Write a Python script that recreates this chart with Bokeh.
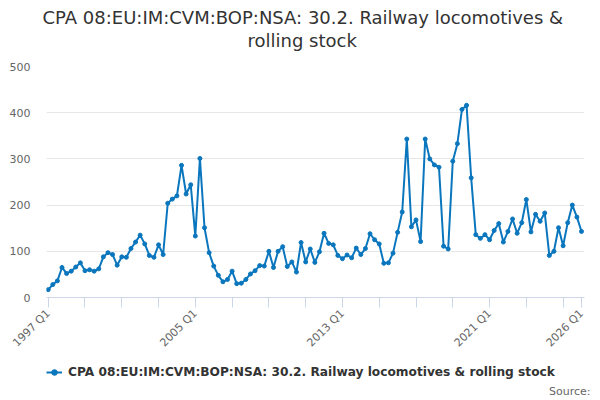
import math
from bokeh.plotting import figure
from bokeh.layouts import column
from bokeh.models import (ColumnDataSource, FixedTicker, Legend, LegendItem,
                          Title)
from bokeh.embed import file_html
from bokeh.resources import INLINE

# quarterly import volumes, 1997 Q1 .. 2026 Q1
years = list(range(1997, 2027))
quarters = [f"{y} Q{q}" for y in years for q in range(1, 5)][:117]
values = [
    17, 28, 36, 65, 52, 57, 66, 75, 58, 60, 57, 62, 88, 97, 93, 70,
    88, 87, 106, 120, 135, 116, 91, 87, 114, 93, 204, 213, 220, 286, 224, 244,
    133, 301, 151, 97, 68, 48, 34, 39, 57, 30, 31, 39, 51, 58, 69, 68,
    100, 65, 100, 110, 67, 77, 55, 119, 77, 105, 76, 99, 139, 117, 114, 91,
    84, 92, 86, 107, 93, 106, 138, 125, 116, 74, 75, 96, 141, 185, 343, 153,
    168, 121, 343, 300, 287, 282, 111, 105, 295, 333, 407, 416, 259, 136, 128, 136,
    125, 145, 160, 120, 143, 170, 139, 162, 212, 142, 180, 165, 183, 91, 100, 151,
    112, 162, 200, 174, 143,
]
labelled = ["1997 Q1", "2005 Q1", "2013 Q1", "2021 Q1", "2026 Q1"]
series_name = "CPA 08:EU:IM:CVM:BOP:NSA: 30.2. Railway locomotives & rolling stock"
title_lines = ["CPA 08:EU:IM:CVM:BOP:NSA: 30.2. Railway locomotives &",
               "rolling stock"]

FONT = "DejaVu Sans"
BLUE = "#0a76bd"

src = ColumnDataSource(dict(x=list(range(len(values))), y=values, q=quarters))

p = figure(width=600, height=357, title=None, output_backend="svg",
           toolbar_location=None, x_range=(-0.37, 116.65), y_range=(0, 500),
           min_border_left=46, min_border_right=16, min_border_top=66,
           min_border_bottom=51)
p.outline_line_color = None
p.background_fill_color = "white"
p.border_fill_color = "white"

p.line("x", "y", source=src, color=BLUE, line_width=2)
p.scatter("x", "y", source=src, size=4, color=BLUE)

# x axis
ticks = list(range(0, 113, 8)) + [116]
p.xaxis.ticker = FixedTicker(ticks=ticks)
p.xaxis.major_label_overrides = {
    i: (quarters[i] if quarters[i] in labelled else "") for i in ticks
}
p.xaxis.major_label_orientation = math.pi / 4
p.xaxis.axis_line_color = "#ccd6eb"
p.xaxis.major_tick_line_color = "#ccd6eb"
p.xaxis.major_tick_out = 10
p.xaxis.major_tick_in = 0
p.xaxis.minor_tick_line_color = None
p.xaxis.major_label_text_font = FONT
p.xaxis.major_label_text_font_size = "11px"
p.xaxis.major_label_text_color = "#666666"
p.xaxis.major_label_standoff = 4
p.xgrid.grid_line_color = None

# y axis
p.yaxis.ticker = FixedTicker(ticks=[0, 100, 200, 300, 400, 500])
p.yaxis.axis_line_color = None
p.yaxis.major_tick_line_color = None
p.yaxis.minor_tick_line_color = None
p.yaxis.major_label_text_font = FONT
p.yaxis.major_label_text_font_size = "11px"
p.yaxis.major_label_text_color = "#666666"
p.yaxis.major_label_standoff = 10
p.ygrid.grid_line_color = "#e6e6e6"

# title: spacer first (closest to the plot), then the two lines
p.add_layout(Title(text=" ", text_font=FONT, text_font_size="12px",
                   standoff=0), "above")
p.add_layout(Title(text=title_lines[1], align="left", offset=201, standoff=0,
                   text_font=FONT, text_font_size="18px",
                   text_font_style="normal", text_color="#333333"), "above")
p.add_layout(Title(text=title_lines[0], align="left", offset=-4, standoff=0,
                   text_font=FONT, text_font_size="18px",
                   text_font_style="normal", text_color="#333333"), "above")

# legend strip underneath: same series, drawn out of its visible range,
# only so the legend has a swatch
lf = figure(width=600, height=43, output_backend="svg", toolbar_location=None,
            x_range=(0, 1), y_range=(-2, -1), x_axis_type=None,
            y_axis_type=None, min_border=0)
lf.outline_line_color = None
lf.xgrid.grid_line_color = None
lf.ygrid.grid_line_color = None
leg_line = lf.line("x", "y", source=src, color=BLUE, line_width=2)
leg_dot = lf.scatter("x", "y", source=src, size=4, color=BLUE)

legend = Legend(items=[LegendItem(label=series_name, renderers=[leg_line, leg_dot])],
                location=(0, 0), orientation="horizontal",
                glyph_width=16, glyph_height=14, label_height=14,
                label_standoff=6, padding=0, margin=0,
                border_line_color=None, background_fill_alpha=0,
                label_text_font=FONT, label_text_font_size="12.2px",
                label_text_font_style="bold", label_text_color="#333333")
lf.add_layout(legend, "center")

lf.add_layout(Title(text="Source:", align="right", offset=-6, standoff=6,
                    text_font=FONT, text_font_size="11px",
                    text_font_style="normal", text_color="#666666"), "below")

layout = column(p, lf, spacing=0)

open("out.html", "w").write(file_html(layout, INLINE))
